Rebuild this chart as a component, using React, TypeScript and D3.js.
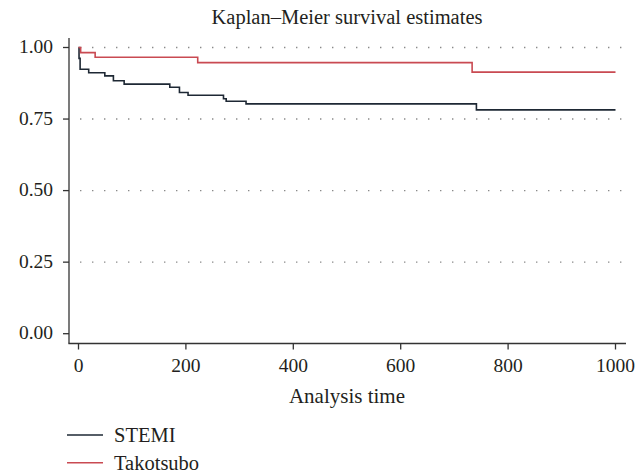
import React from "react";
import * as d3 from "d3";

const title = "Kaplan–Meier survival estimates";
const xLabel = "Analysis time";
const xTicks = [0, 200, 400, 600, 800, 1000];
const yTicks = [0, 0.25, 0.5, 0.75, 1.0];
const gridValues = [0.25, 0.5, 0.75, 1.0];
const maxTime = 1000;

const stemiTimes = [0, 1, 3, 19, 49, 65, 85, 170, 188, 204, 270, 275, 312, 741];
const stemiSurv = [1.0, 0.962, 0.924, 0.912, 0.901, 0.884, 0.872, 0.861, 0.843, 0.833, 0.821, 0.812, 0.803, 0.782];
const takoTimes = [0, 4, 31, 222, 733];
const takoSurv = [1.0, 0.982, 0.966, 0.947, 0.914];

const seriesNames = ["STEMI", "Takotsubo"];
const seriesColors = ["#1e2834", "#c94a52"];

const W = 636;
const H = 473;
const FONT = "Liberation Serif";

export default function App() {
  const x = d3.scaleLinear().domain([0, 1000]).range([78.5, 615.5]);
  const y = d3.scaleLinear().domain([0, 1]).range([333.7, 47.5]);
  const axisY = 343.5;
  const axisX = 69;

  const line = d3
    .line<[number, number]>()
    .x((d) => x(d[0]))
    .y((d) => y(d[1]))
    .curve(d3.curveStepAfter);

  const mk = (t: number[], s: number[]): [number, number][] => {
    const pts: [number, number][] = t.map((ti, i) => [ti, s[i]]);
    pts.push([maxTime, s[s.length - 1]]);
    return pts;
  };
  const series = [mk(stemiTimes, stemiSurv), mk(takoTimes, takoSurv)];
  const ts = { fontFamily: FONT };

  return (
    <svg
      width={W}
      height={H}
      style={{ position: "absolute", left: 0, top: 0, background: "#fff" }}
    >
      <rect x={0} y={0} width={W} height={H} fill="#fff" />
      <text style={ts} x={(x(0) + x(1000)) / 2} y={24} textAnchor="middle" fontSize={20.5} fill="#231f20">
        {title}
      </text>
      {gridValues.map((v) => (
        <line
          key={"g" + v}
          x1={80}
          x2={623}
          y1={y(v)}
          y2={y(v)}
          stroke="#8a8a8a"
          strokeWidth={1.4}
          strokeDasharray="1.4 10.6"
        />
      ))}
      {series.map((pts, i) => (
        <path
          key={"s" + i}
          d={line(pts) || ""}
          fill="none"
          stroke={seriesColors[i]}
          strokeWidth={1.6}
        />
      ))}
      <line x1={axisX} x2={axisX} y1={38} y2={axisY} stroke="#333" strokeWidth={1.3} />
      <line x1={axisX - 0.6} x2={626} y1={axisY} y2={axisY} stroke="#333" strokeWidth={1.3} />
      {yTicks.map((v) => (
        <g key={"y" + v}>
          <line x1={axisX - 6} x2={axisX} y1={y(v)} y2={y(v)} stroke="#333" strokeWidth={1.3} />
          <text style={ts} x={53} y={y(v) + 5.5} textAnchor="end" fontSize={19.5} fill="#231f20">
            {d3.format(".2f")(v)}
          </text>
        </g>
      ))}
      {xTicks.map((v) => (
        <g key={"x" + v}>
          <line x1={x(v)} x2={x(v)} y1={axisY} y2={axisY + 6} stroke="#333" strokeWidth={1.3} />
          <text style={ts} x={x(v)} y={372} textAnchor="middle" fontSize={19.5} fill="#231f20">
            {v}
          </text>
        </g>
      ))}
      <text style={ts} x={(x(0) + x(1000)) / 2} y={403} textAnchor="middle" fontSize={21} fill="#231f20">
        {xLabel}
      </text>
      {seriesNames.map((name, i) => {
        const ly = 435 + i * 27.7;
        return (
          <g key={"l" + name}>
            <line x1={67} x2={103} y1={ly} y2={ly} stroke={seriesColors[i]} strokeWidth={1.6} />
            <text style={ts} x={114} y={ly + 7} fontSize={20.5} fill="#231f20">
              {name}
            </text>
          </g>
        );
      })}
    </svg>
  );
}
